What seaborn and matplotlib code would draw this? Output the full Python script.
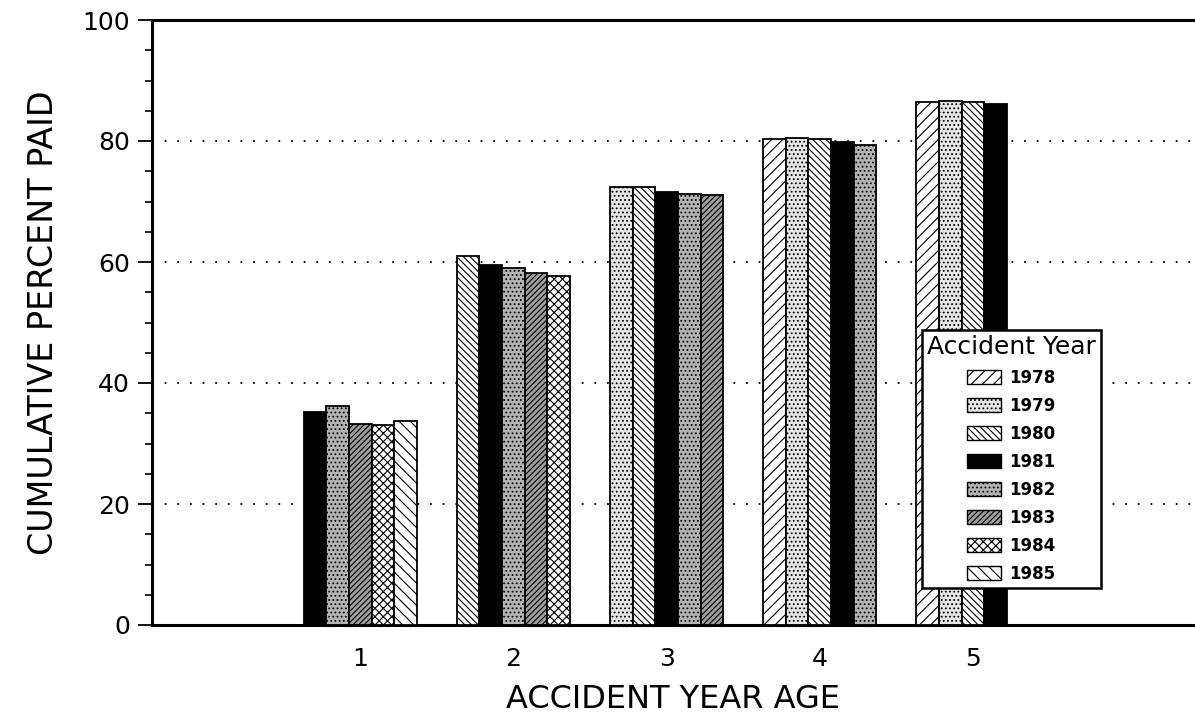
import matplotlib
matplotlib.use("Agg")
import matplotlib.pyplot as plt
from matplotlib.patches import Patch
from matplotlib.ticker import MultipleLocator
import seaborn as sns
import pandas as pd

# accident years shown in each age group, in slot order, with cumulative % paid
ages = [1, 2, 3, 4, 5]
years_age1 = [1981, 1982, 1983, 1984, 1985]
pct_age1 = [35.2, 36.2, 33.2, 33.0, 33.7]
years_age2 = [1980, 1981, 1982, 1983, 1984]
pct_age2 = [61.0, 59.5, 59.0, 58.2, 57.7]
years_age3 = [1979, 1980, 1981, 1982, 1983]
pct_age3 = [72.4, 72.4, 71.6, 71.2, 71.1]
years_age4 = [1978, 1979, 1980, 1981, 1982]
pct_age4 = [80.3, 80.5, 80.3, 79.8, 79.3]
years_age5 = [1978, 1979, 1980, 1981]
pct_age5 = [86.4, 86.6, 86.4, 86.1]

legend_years = [1978, 1979, 1980, 1981, 1982, 1983, 1984, 1985]

# fill / hatch used for each accident year
styles = {
    1978: ('white', '///'),
    1979: ('#e6e6e6', '....'),
    1980: ('white', '\\\\\\\\\\'),
    1981: ('black', ''),
    1982: ('#b4b4b4', '....'),
    1983: ('#a0a0a0', '//////'),
    1984: ('white', 'xxxx'),
    1985: ('white', '\\\\\\'),
}

rows = []
year_of = {}
for age, yrs, pcts in zip(ages, [years_age1, years_age2, years_age3, years_age4, years_age5],
                          [pct_age1, pct_age2, pct_age3, pct_age4, pct_age5]):
    for slot, (yr, p) in enumerate(zip(yrs, pcts)):
        rows.append({'age': str(age), 'slot': str(slot), 'year': yr, 'pct': p})
        year_of[(age - 1, slot)] = yr
df = pd.DataFrame(rows)

sns.set_style("white")
plt.rcParams['font.family'] = ['DejaVu Sans']
plt.rcParams['hatch.linewidth'] = 0.8
plt.rcParams['text.color'] = 'black'
plt.rcParams['axes.labelcolor'] = 'black'
plt.rcParams['xtick.color'] = 'black'
plt.rcParams['ytick.color'] = 'black'

fig = plt.figure(figsize=(11.95, 7.24), dpi=100)
ax = fig.add_axes([152 / 1195, 1 - 625 / 724, 1 - 152 / 1195, (625 - 20) / 724])

sns.barplot(data=df, x='age', y='pct', hue='slot', hue_order=['0', '1', '2', '3', '4'],
            order=['1', '2', '3', '4', '5'], dodge=True, width=0.74,
            palette=['white'] * 5, edgecolor='black', linewidth=1.3,
            legend=False, ax=ax, zorder=3)

for slot, cont in enumerate(ax.containers):
    for bar in cont:
        h = bar.get_height()
        if h != h:
            continue
        gi = int(round(bar.get_x() + bar.get_width() / 2 - (slot - 2) * 0.74 / 5))
        yr = year_of.get((gi, slot))
        if yr is None:
            continue
        fc, hatch = styles[yr]
        bar.set_facecolor(fc)
        bar.set_hatch(hatch)

ax.set_xlim(-1.36, 5.45)
ax.set_ylim(0, 100)
ax.yaxis.set_major_locator(MultipleLocator(20))
ax.yaxis.set_minor_locator(MultipleLocator(5))
ax.tick_params(axis='y', which='major', left=True, length=10, width=1.3, labelsize=18, pad=6)
ax.tick_params(axis='y', which='minor', left=True, length=5, width=1.2)
ax.tick_params(axis='x', bottom=False, labelsize=18, pad=12)

for yv in [20, 40, 60, 80]:
    ax.axhline(yv, color='black', linestyle=(0, (1, 6)), linewidth=1.3, zorder=1)

for side in ['left', 'bottom', 'top']:
    ax.spines[side].set_linewidth(2.2)
    ax.spines[side].set_color('black')
ax.spines['right'].set_visible(False)

ax.set_ylabel('CUMULATIVE PERCENT PAID', fontsize=24, labelpad=16)
ax.set_xlabel('ACCIDENT YEAR AGE', fontsize=23, labelpad=10)

handles = [Patch(facecolor=styles[y][0], hatch=styles[y][1], edgecolor='black', linewidth=1.0)
           for y in legend_years]
leg = ax.legend(handles, [str(y) for y in legend_years], title='Accident Year',
                loc='upper left', bbox_to_anchor=((922 - 152) / 1043, (625 - 330) / 605),
                borderaxespad=0, frameon=True, fancybox=False, framealpha=1, edgecolor='black',
                prop={'weight': 'bold', 'size': 12}, title_fontsize=18,
                handlelength=2.0, handleheight=0.9, handletextpad=0.5,
                labelspacing=0.6, borderpad=0.3)
leg.get_frame().set_linewidth(1.8)
leg.set_zorder(5)

fig.savefig('out.png', dpi=100)
